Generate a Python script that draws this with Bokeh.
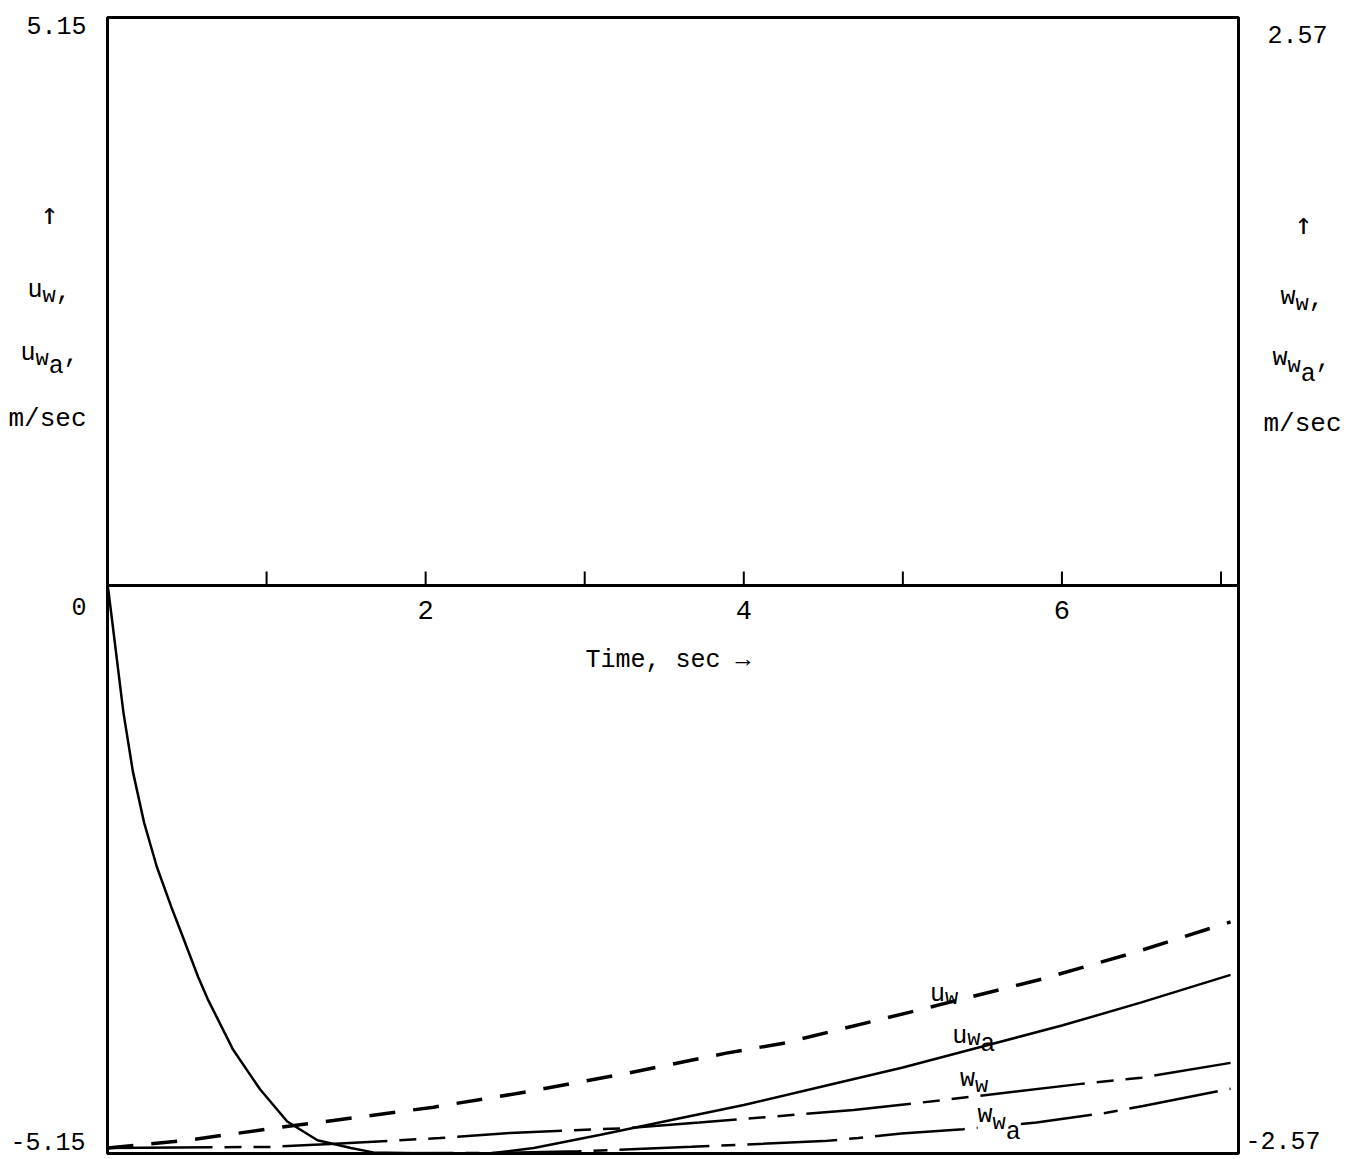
import numpy as np
from bokeh.plotting import figure
from bokeh.models import Range1d, Label
from bokeh.embed import file_html
from bokeh.resources import INLINE

# ---- data: time in seconds, wind components in m/sec ----
# horizontal wind (left scale)
t_u_w = [0.0, 0.5, 1.1, 1.42, 2.05, 2.64, 3.24, 3.89, 4.25, 5.04, 5.87, 6.45, 7.06]
u_w = [-5.10, -5.03, -4.91, -4.85, -4.73, -4.59, -4.43, -4.24, -4.15, -3.87, -3.57, -3.33, -3.05]

t_u_wa = [0.0, 0.006, 0.03, 0.10, 0.16, 0.23, 0.31, 0.40, 0.48, 0.57, 0.63, 0.79, 0.96,
          1.13, 1.32, 1.53, 1.67, 2.0, 2.4, 2.68, 3.10, 3.50, 4.00, 4.50, 5.00, 5.50,
          6.00, 6.50, 7.06]
u_wa = [0.0, -0.05, -0.33, -1.15, -1.69, -2.15, -2.55, -2.91, -3.21, -3.55, -3.75, -4.21,
        -4.57, -4.86, -5.03, -5.10, -5.14, -5.15, -5.15, -5.10, -4.98, -4.86, -4.71, -4.54,
        -4.37, -4.18, -3.99, -3.78, -3.53]

# vertical wind (right scale)
t_w_w = [0.0, 1.03, 1.4, 2.09, 2.53, 3.27, 3.72, 4.69, 5.11, 6.12, 6.5, 7.06]
w_w = [-2.545, -2.54, -2.527, -2.50, -2.477, -2.455, -2.43, -2.373, -2.34, -2.255, -2.227, -2.16]

t_w_wa = [0.0, 2.43, 2.96, 3.67, 4.5, 4.72, 4.99, 5.38, 5.84, 6.28, 6.51, 7.06]
w_wa = [-2.57, -2.568, -2.56, -2.54, -2.514, -2.50, -2.48, -2.46, -2.43, -2.386, -2.355, -2.277]

# axis limits and ticks
t_max = 7.11
u_lim = 5.15
w_lim = 2.57
time_ticks = [1, 2, 3, 4, 5, 6, 7]
time_labels = ["2", "4", "6"]

FONT = "Liberation Mono"
ARROW_FONT = "DejaVu Sans Mono"

# page size and the chart box inside it (pixels)
W, H = 1348, 1159
BOX_L, BOX_R, BOX_T, BOX_B = 107, 1238, 17, 1153

sx = (BOX_R - BOX_L) / t_max
sy = (BOX_B - BOX_T) / (2 * u_lim)
sw = (BOX_B - BOX_T) / (2 * w_lim)

p = figure(width=W, height=H,
           x_range=Range1d(-BOX_L / sx, t_max + (W - BOX_R) / sx),
           y_range=Range1d(-u_lim - (H - BOX_B) / sy, u_lim + BOX_T / sy),
           x_axis_type=None, y_axis_type=None,
           output_backend="svg", toolbar_location=None, min_border=0)
p.extra_y_ranges = {"w": Range1d(-w_lim - (H - BOX_B) / sw, w_lim + BOX_T / sw)}
p.background_fill_color = "white"
p.border_fill_color = "white"
p.outline_line_color = None

# chart box, zero line and upward time ticks
p.quad(left=[0], right=[t_max], bottom=[-u_lim], top=[u_lim],
       fill_color=None, line_color="black", line_width=3)
p.segment(x0=[0], y0=[0], x1=[t_max], y1=[0], line_color="black", line_width=3)
tick_len = 14 / sy
p.segment(x0=time_ticks, y0=[0] * len(time_ticks), x1=time_ticks,
          y1=[tick_len] * len(time_ticks), line_color="black", line_width=2)

# curves
p.line(t_u_w, u_w, line_color="black", line_width=3.5, line_dash="26 18")
p.line(t_u_wa, u_wa, line_color="black", line_width=2.5)
p.line(t_w_w, w_w, line_color="black", line_width=2.5,
       line_dash="105 12 17 12 17 12", y_range_name="w")
p.line(t_w_wa, w_wa, line_color="black", line_width=2.5,
       line_dash="90 12 14 12", y_range_name="w")


def put(text, x, y, dx, dy, size=25, align="left", baseline="alphabetic",
        rng="default", bg=None, font=FONT):
    lab = Label(x=x, y=y, x_offset=dx, y_offset=dy, text=text, text_font=font,
                text_font_size=f"{size}px", text_align=align, text_baseline=baseline,
                text_color="black", y_range_name=rng)
    if bg is not None:
        lab.background_fill_color = bg
    p.add_layout(lab)


def compound(parts, x, y, dx, dy, rng="default", bg=None):
    # parts: (text, font size px, drop below main baseline px)
    cx = dx
    for txt, size, drop in parts:
        put(txt, x, y, cx, dy - drop, size=size, rng=rng, bg=bg)
        cx += 0.6 * size * len(txt)


# left scale values
put("5.15", 0, u_lim, -21, -8, align="right", baseline="middle")
put("0", 0, 0, -21, -21, align="right", baseline="middle")
put("-5.15", 0, -u_lim, -22, 12, align="right", baseline="middle")

# right scale values
put("2.57", t_max, w_lim, 29, -17, baseline="middle", rng="w")
put("-2.57", t_max, -w_lim, 7, 13, baseline="middle", rng="w")

# time tick labels
for lbl in time_labels:
    put(lbl, float(lbl), 0, 0, -24, size=27, align="center", baseline="middle")
put("Time, sec \u2192", 0, 0, 478, -75, baseline="middle")

# left axis title
put("\u2191", 0, u_lim, -58, -196, size=30, align="center", baseline="middle", font=ARROW_FONT)
compound([("u", 25, 0), ("w", 22, 6), (",", 25, 0)], 0, u_lim, -80, -273)
compound([("u", 25, 0), ("w", 22, 6), ("a", 25, 13), (",", 25, 0)], 0, u_lim, -87, -336)
put("m/sec", 0, u_lim, -99, -401, size=26)

# right axis title
put("\u2191", t_max, w_lim, 65, -206, size=30, align="center", baseline="middle",
    rng="w", font=ARROW_FONT)
compound([("w", 25, 0), ("w", 22, 7), (",", 25, 0)], t_max, w_lim, 42, -280, rng="w")
compound([("w", 25, 0), ("w", 22, 8), ("a", 25, 16), (",", 25, 0)], t_max, w_lim, 34, -341, rng="w")
put("m/sec", t_max, w_lim, 25, -406, size=26, rng="w")

# curve labels, placed just above each curve
t_lab = 5.17
compound([("u", 25, 0), ("w", 22, 4)], t_lab, float(np.interp(t_lab, t_u_w, u_w)), 0, 13)
t_lab = 5.31
compound([("u", 25, 0), ("w", 22, 3), ("a", 25, 8)], t_lab,
         float(np.interp(t_lab, t_u_wa, u_wa)), 0, 18)
t_lab = 5.36
compound([("w", 25, 0), ("w", 22, 7)], t_lab, float(np.interp(t_lab, t_w_w, w_w)), 0, 19, rng="w")
t_lab = 5.47
compound([("w", 25, 0), ("w", 22, 8), ("a", 25, 17)], t_lab,
         float(np.interp(t_lab, t_w_wa, w_wa)), 0, 12, rng="w", bg="white")

open("out.html", "w").write(file_html(p, INLINE))
